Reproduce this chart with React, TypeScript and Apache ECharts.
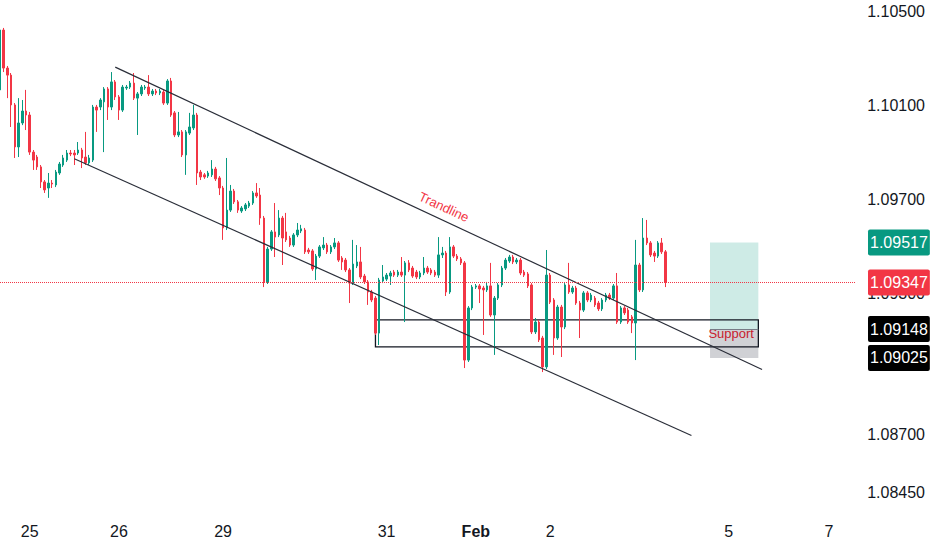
import React, { useEffect, useRef } from 'react';
import * as echarts from 'echarts';

const opens = [1.10167,1.10422,1.10260,1.10230,1.10103,1.09924,1.10026,1.10077,1.10060,1.09902,1.09881,1.09839,1.09775,1.09749,1.09770,1.09762,1.09813,1.09847,1.09868,1.09898,1.09898,1.09898,1.09911,1.09881,1.09856,1.09868,1.10094,1.10094,1.10116,1.10171,1.10094,1.10201,1.10137,1.10081,1.10175,1.10179,1.10196,1.10132,1.10150,1.10175,1.10179,1.10150,1.10162,1.10154,1.10158,1.10111,1.10205,1.10069,1.09975,1.09988,1.09890,1.09983,1.10005,1.10060,1.09817,1.09805,1.09800,1.09805,1.09830,1.09792,1.09749,1.09579,1.09655,1.09736,1.09690,1.09651,1.09660,1.09672,1.09685,1.09728,1.09719,1.09621,1.09349,1.09489,1.09562,1.09549,1.09621,1.09562,1.09536,1.09506,1.09549,1.09566,1.09570,1.09485,1.09481,1.09404,1.09459,1.09494,1.09506,1.09477,1.09498,1.09515,1.09451,1.09442,1.09400,1.09344,1.09417,1.09434,1.09374,1.09349,1.09306,1.09280,1.09131,1.09353,1.09361,1.09374,1.09391,1.09378,1.09391,1.09378,1.09430,1.09408,1.09391,1.09370,1.09387,1.09408,1.09400,1.09391,1.09378,1.09464,1.09472,1.09306,1.09498,1.09459,1.09447,1.09430,1.09016,1.09238,1.09327,1.09332,1.09323,1.09315,1.09332,1.09208,1.09280,1.09336,1.09408,1.09438,1.09455,1.09434,1.09442,1.09391,1.09383,1.09336,1.09136,1.09178,1.09110,1.08987,1.09378,1.09272,1.09110,1.09242,1.09157,1.09336,1.09306,1.09323,1.09259,1.09229,1.09302,1.09272,1.09280,1.09259,1.09234,1.09272,1.09293,1.09280,1.09332,1.09178,1.09238,1.09229,1.09200,1.09174,1.09421,1.09315,1.09536,1.09515,1.09472,1.09459,1.09515,1.09477];
const closes = [1.10422,1.10260,1.10230,1.10103,1.09924,1.10026,1.10077,1.10060,1.09902,1.09868,1.09839,1.09775,1.09741,1.09770,1.09766,1.09817,1.09851,1.09877,1.09898,1.09894,1.09890,1.09911,1.09877,1.09856,1.09877,1.10094,1.10081,1.10124,1.10171,1.10094,1.10201,1.10137,1.10081,1.10179,1.10179,1.10196,1.10132,1.10150,1.10179,1.10179,1.10150,1.10162,1.10154,1.10162,1.10111,1.10205,1.10060,1.09975,1.09988,1.09890,1.09988,1.10009,1.10060,1.09813,1.09796,1.09796,1.09813,1.09830,1.09788,1.09749,1.09579,1.09655,1.09736,1.09690,1.09655,1.09664,1.09677,1.09685,1.09728,1.09715,1.09621,1.09349,1.09489,1.09562,1.09540,1.09621,1.09536,1.09528,1.09506,1.09549,1.09570,1.09575,1.09477,1.09477,1.09404,1.09459,1.09498,1.09506,1.09477,1.09498,1.09515,1.09442,1.09434,1.09400,1.09344,1.09425,1.09434,1.09370,1.09349,1.09306,1.09272,1.09131,1.09357,1.09370,1.09378,1.09387,1.09378,1.09391,1.09378,1.09430,1.09400,1.09374,1.09370,1.09387,1.09408,1.09391,1.09387,1.09378,1.09464,1.09472,1.09306,1.09498,1.09459,1.09447,1.09430,1.09016,1.09238,1.09327,1.09332,1.09319,1.09315,1.09332,1.09208,1.09280,1.09336,1.09408,1.09442,1.09455,1.09434,1.09442,1.09387,1.09378,1.09332,1.09136,1.09178,1.09102,1.08987,1.09378,1.09263,1.09110,1.09242,1.09157,1.09336,1.09306,1.09323,1.09259,1.09229,1.09302,1.09272,1.09293,1.09251,1.09234,1.09272,1.09293,1.09280,1.09332,1.09178,1.09238,1.09217,1.09178,1.09174,1.09421,1.09315,1.09536,1.09515,1.09464,1.09459,1.09515,1.09477,1.09347];
const lows = [1.10145,1.10243,1.10132,1.10009,1.09877,1.09881,1.10017,1.09996,1.09890,1.09826,1.09826,1.09749,1.09728,1.09707,1.09749,1.09753,1.09805,1.09839,1.09860,1.09885,1.09847,1.09890,1.09834,1.09847,1.09847,1.09860,1.09988,1.10081,1.09902,1.10039,1.10081,1.10124,1.10039,1.10073,1.10167,1.10171,1.10124,1.09975,1.10141,1.10167,1.10141,1.10141,1.10145,1.10145,1.10103,1.10103,1.10052,1.09966,1.09966,1.09881,1.09805,1.09975,1.09996,1.09762,1.09783,1.09788,1.09792,1.09796,1.09779,1.09719,1.09528,1.09570,1.09647,1.09681,1.09643,1.09643,1.09651,1.09664,1.09677,1.09707,1.09592,1.09327,1.09340,1.09481,1.09455,1.09540,1.09421,1.09519,1.09498,1.09498,1.09540,1.09557,1.09468,1.09468,1.09396,1.09357,1.09451,1.09485,1.09468,1.09468,1.09489,1.09434,1.09400,1.09391,1.09259,1.09336,1.09408,1.09361,1.09340,1.09251,1.09263,1.09123,1.09080,1.09344,1.09353,1.09336,1.09370,1.09370,1.09370,1.09178,1.09391,1.09366,1.09361,1.09361,1.09378,1.09383,1.09378,1.09370,1.09366,1.09451,1.09289,1.09298,1.09451,1.09438,1.09421,1.08982,1.09008,1.09229,1.09319,1.09259,1.09123,1.09306,1.09200,1.09038,1.09272,1.09327,1.09400,1.09430,1.09425,1.09425,1.09378,1.09370,1.09323,1.09127,1.09127,1.09093,1.08965,1.08978,1.09255,1.09038,1.09102,1.09029,1.09148,1.09298,1.09298,1.09251,1.09110,1.09221,1.09263,1.09263,1.09242,1.09225,1.09225,1.09263,1.09272,1.09272,1.09170,1.09170,1.09208,1.09170,1.09131,1.09016,1.09306,1.09306,1.09506,1.09455,1.09434,1.09451,1.09468,1.09327];
const highs = [1.10431,1.10431,1.10269,1.10239,1.10111,1.10132,1.10124,1.10167,1.10073,1.09911,1.09890,1.09847,1.09783,1.09813,1.09783,1.09826,1.09860,1.09890,1.09911,1.09911,1.09911,1.09945,1.09920,1.09988,1.09890,1.10103,1.10103,1.10132,1.10179,1.10179,1.10243,1.10209,1.10145,1.10188,1.10188,1.10205,1.10239,1.10158,1.10188,1.10188,1.10230,1.10171,1.10171,1.10171,1.10167,1.10213,1.10218,1.10077,1.10073,1.09996,1.09996,1.10069,1.10103,1.10069,1.09826,1.09813,1.09822,1.09868,1.09839,1.09800,1.09758,1.09877,1.09762,1.09745,1.09698,1.09672,1.09685,1.09694,1.09736,1.09770,1.09749,1.09630,1.09498,1.09570,1.09685,1.09655,1.09630,1.09643,1.09545,1.09557,1.09600,1.09592,1.09579,1.09494,1.09489,1.09468,1.09506,1.09540,1.09515,1.09506,1.09536,1.09523,1.09459,1.09451,1.09408,1.09528,1.09506,1.09498,1.09383,1.09357,1.09315,1.09289,1.09366,1.09421,1.09387,1.09396,1.09400,1.09400,1.09455,1.09438,1.09442,1.09417,1.09400,1.09396,1.09455,1.09417,1.09408,1.09400,1.09540,1.09498,1.09481,1.09540,1.09506,1.09468,1.09455,1.09438,1.09246,1.09336,1.09340,1.09340,1.09332,1.09349,1.09430,1.09289,1.09344,1.09417,1.09451,1.09464,1.09464,1.09451,1.09451,1.09400,1.09391,1.09344,1.09195,1.09187,1.09119,1.09485,1.09387,1.09280,1.09251,1.09251,1.09344,1.09430,1.09332,1.09332,1.09268,1.09310,1.09310,1.09302,1.09289,1.09268,1.09280,1.09302,1.09302,1.09340,1.09387,1.09246,1.09246,1.09238,1.09208,1.09528,1.09430,1.09621,1.09613,1.09523,1.09481,1.09523,1.09536,1.09485];

const slotCount = 231;
const dayLabels = ['25', '26', '29', '31', 'Feb', '2', '5', '7'];
const dayLabelSlots = [8, 32, 60, 104, 128, 148, 196, 223];
const priceTicks = [1.0845, 1.087, 1.093, 1.097, 1.101, 1.105];

const upperTrend = [[31, 1.10264], [205, 1.08976]];
const lowerTrend = [[20, 1.09874], [186, 1.08695]];
const supportZone = { from: 101, to: 204, top: 1.09187, bottom: 1.09072 };
const positionZone = { from: 191, to: 204, target: 1.09517, entry: 1.09148, stop: 1.09025 };
const lastPrice = 1.09347;

const UP = '#089981';
const DOWN = '#f23645';
const FONT = "'Liberation Sans', Arial, sans-serif";

export default function App() {
  const ref = useRef<HTMLDivElement>(null);
  useEffect(() => {
    if (!ref.current) return;
    const chart = echarts.init(ref.current, undefined, { renderer: 'svg' });
    const categories = Array.from({ length: slotCount }, (_, i) => String(i));
    const candles = opens.map((o, i) => [o, closes[i], lows[i], highs[i]]);

    const priceBox = (value: number, bg: string, lineStyle: any) => ({
      yAxis: value,
      lineStyle,
      label: {
        show: true,
        position: 'end',
        distance: 13,
        formatter: value.toFixed(5),
        backgroundColor: bg,
        color: '#ffffff',
        fontFamily: FONT,
        fontSize: 16,
        lineHeight: 16,
        padding: [5, 2, 5, 2],
        borderRadius: 2,
      },
    });
    const hiddenLine = { color: 'rgba(255,255,255,0)', width: 0, type: 'solid' };

    chart.setOption({
      animation: false,
      backgroundColor: '#ffffff',
      grid: { left: 0, right: 77, top: 0, bottom: 35 },
      xAxis: {
        type: 'category',
        data: categories,
        boundaryGap: false,
        axisLine: { show: false },
        axisTick: { show: false },
        splitLine: { show: false },
        axisLabel: {
          interval: (index: number) => dayLabelSlots.indexOf(index) >= 0,
          formatter: (_v: string, index: number) => {
            const k = dayLabelSlots.indexOf(index);
            if (k < 0) return '';
            return dayLabels[k] === 'Feb' ? '{b|Feb}' : dayLabels[k];
          },
          color: '#131722',
          fontFamily: FONT,
          fontSize: 16,
          margin: 8,
          rich: { b: { fontWeight: 'bold', fontFamily: FONT, fontSize: 16, color: '#131722' } },
        },
      },
      yAxis: {
        type: 'value',
        position: 'right',
        min: 1.08356,
        max: 1.1055,
        axisLine: { show: false },
        axisTick: { show: false },
        splitLine: { show: false },
        axisLabel: {
          customValues: priceTicks,
          formatter: (v: number) => v.toFixed(5),
          color: '#131722',
          fontFamily: FONT,
          fontSize: 16,
          align: 'right',
          margin: 70,
        },
      },
      series: [
        {
          type: 'candlestick',
          data: candles,
          barWidth: 2,
          itemStyle: {
            color: UP,
            color0: DOWN,
            borderColor: UP,
            borderColor0: DOWN,
            borderWidth: 1,
          },
          markArea: {
            silent: true,
            data: [
              [
                { xAxis: positionZone.from, yAxis: positionZone.target, itemStyle: { color: 'rgba(8,153,129,0.2)' } },
                { xAxis: positionZone.to, yAxis: positionZone.entry },
              ],
              [
                { xAxis: positionZone.from, yAxis: positionZone.entry, itemStyle: { color: 'rgba(120,123,134,0.35)' } },
                { xAxis: positionZone.to, yAxis: positionZone.stop },
              ],
              [
                {
                  xAxis: supportZone.from,
                  yAxis: supportZone.top,
                  itemStyle: { color: 'rgba(0,0,0,0)', borderColor: '#131722', borderWidth: 1.3 },
                  label: {
                    show: true,
                    position: 'insideRight',
                    formatter: 'Support',
                    color: '#c8202e',
                    fontFamily: FONT,
                    fontSize: 13,
                    distance: 5,
                  },
                },
                { xAxis: supportZone.to, yAxis: supportZone.bottom },
              ],
            ],
          },
          markLine: {
            silent: true,
            precision: 5,
            symbol: ['none', 'none'],
            data: [
              [
                {
                  coord: upperTrend[0],
                  lineStyle: { color: '#2a2e39', width: 1.2, type: 'solid' },
                  label: {
                    show: true,
                    position: 'middle',
                    formatter: 'Trandline',
                    color: DOWN,
                    fontFamily: FONT,
                    fontSize: 13,
                    distance: 6,
                  },
                },
                { coord: upperTrend[1] },
              ],
              [
                {
                  coord: lowerTrend[0],
                  lineStyle: { color: '#2a2e39', width: 1.2, type: 'solid' },
                  label: { show: false },
                },
                { coord: lowerTrend[1] },
              ],
              [
                {
                  coord: [positionZone.from, positionZone.entry],
                  lineStyle: { color: '#787b86', width: 1, type: 'solid' },
                  label: { show: false },
                },
                { coord: [positionZone.to, positionZone.entry] },
              ],
              priceBox(positionZone.target, UP, hiddenLine),
              priceBox(lastPrice, DOWN, { color: DOWN, width: 1, type: 'dotted' }),
              priceBox(positionZone.entry, '#000000', hiddenLine),
              priceBox(positionZone.stop, '#000000', hiddenLine),
            ],
          },
        },
      ],
    });
    return () => chart.dispose();
  }, []);
  return (
    <div
      ref={ref}
      style={{ position: 'fixed', left: 0, top: 0, width: 932, height: 550, background: '#ffffff' }}
    />
  );
}
